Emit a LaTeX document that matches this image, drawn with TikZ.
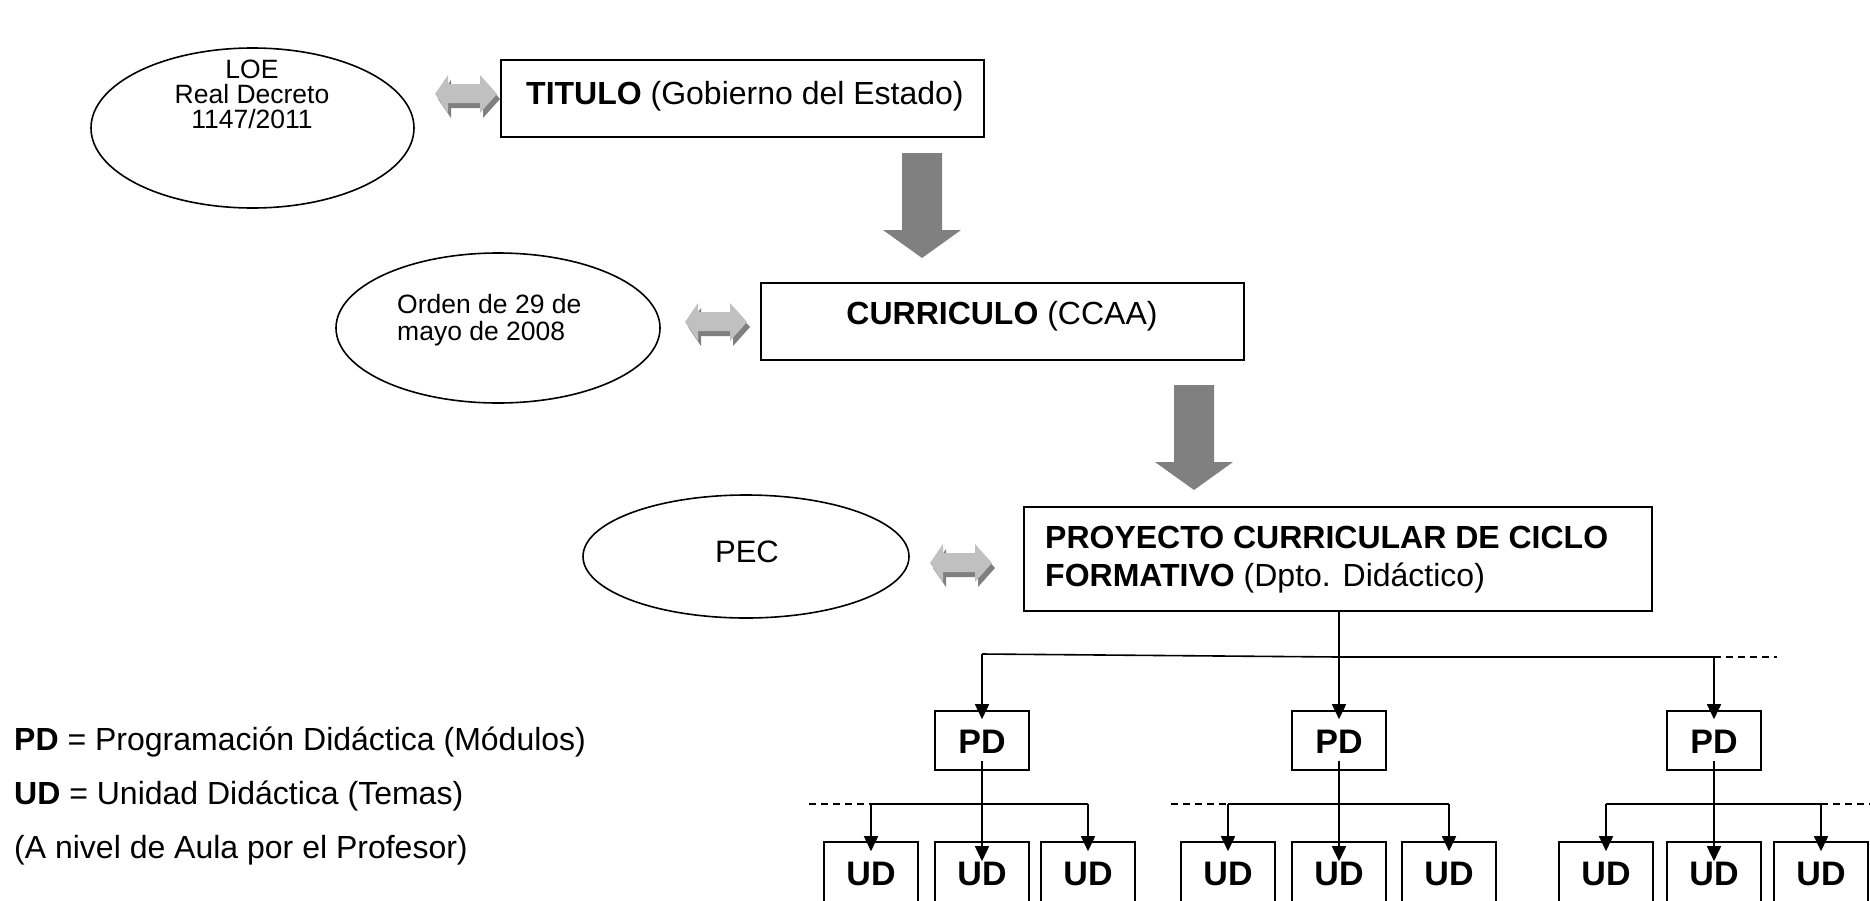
\documentclass[tikz,border=0pt]{standalone}
\usepackage{fontspec}
\setmainfont{Liberation Sans}
\usetikzlibrary{shapes.geometric,arrows.meta}
\definecolor{biggray}{HTML}{808080}
\definecolor{lightgr}{HTML}{C0C0C0}
\definecolor{darkgr}{HTML}{7F7F7F}
\tikzset{
  ell/.style={draw, ellipse, line width=1.6pt, inner sep=0pt},
  box/.style={draw, rectangle, line width=1.6pt, inner sep=0pt},
  bigtxt/.style={inner sep=0pt, font=\fontsize{32}{38}\selectfont},
  smalltxt/.style={inner sep=0pt, font=\fontsize{26.5}{26}\selectfont},
  boxtxt/.style={inner sep=0pt, font=\fontsize{34}{38}\selectfont\bfseries},
  conn/.style={line width=1.6pt, -{Triangle[length=15pt,width=14pt]}},
  plainline/.style={line width=1.6pt},
  dashline/.style={line width=1.6pt, dash pattern=on 7pt off 5pt},
  dblarrow/.pic={
    \begin{scope}[shift={(3,5)}]
      \fill[darkgr] (-31,0) -- (-18,-19) -- (-18,-10) -- (14,-10) -- (14,-19) -- (31,0) -- (14,19) -- (14,9) -- (-18,9) -- (-18,19) -- cycle;
    \end{scope}
    \fill[lightgr] (-31,0) -- (-18,-19) -- (-18,-10) -- (14,-10) -- (14,-19) -- (31,0) -- (14,19) -- (14,9) -- (-18,9) -- (-18,19) -- cycle;
  },
  bigarrow/.pic={
    \fill[biggray] (-20,0) -- (20,0) -- (20,77) -- (39,77) -- (0,105) -- (-39,77) -- (-20,77) -- cycle;
  }
}
\begin{document}
\begin{tikzpicture}[x=1pt,y=-1pt]
\useasboundingbox (0,0) rectangle (1870,900);
\clip (0,0) rectangle (1870,900);

% ellipses
\node[ell, minimum width=323pt, minimum height=160pt] (loe) at (252.5,128) {};
\node[ell, minimum width=324pt, minimum height=150pt] (orden) at (498,328) {};
\node[ell, minimum width=326pt, minimum height=123pt] (pec) at (746,556.5) {};

\node[smalltxt, anchor=base] (loe1) at (252,78.5) {LOE};
\node[smalltxt, anchor=base] (loe2) at (252,103.5) {Real Decreto};
\node[smalltxt, anchor=base] (loe3) at (252,128.5) {1147/2011};
\node[smalltxt, anchor=base west] (ord1) at (397,313) {Orden de 29 de};
\node[smalltxt, anchor=base west] (ord2) at (397,340) {mayo de 2008};
\node[bigtxt, anchor=base, font=\fontsize{31}{36}\selectfont] (pectxt) at (747,562) {PEC};

% double arrows
\pic (da1) at (466,94) {dblarrow};
\pic (da2) at (716,322) {dblarrow};
\pic (da3) at (961,563) {dblarrow};

% main boxes
\node[box, minimum width=483pt, minimum height=77pt] (titulo) at (742.5,98.5) {};
\node[bigtxt, anchor=base west] (titulotxt) at (526,104) {\textbf{TITULO} (Gobierno del Estado)};
\node[box, minimum width=483pt, minimum height=77pt] (curr) at (1002.5,321.5) {};
\node[bigtxt, anchor=base] (currtxt) at (1002,324) {\textbf{CURRICULO} (CCAA)};
\node[box, minimum width=628pt, minimum height=104pt] (proy) at (1338,559) {};
\node[bigtxt, anchor=base west] (proy1) at (1045,548.5) {\textbf{PROYECTO CURRICULAR DE CICLO}};
\node[bigtxt, anchor=base west] (proy2) at (1045,586.5) {\textbf{FORMATIVO} (Dpto. Didáctico)};

% big arrows
\pic (ba1) at (922,153) {bigarrow};
\pic (ba2) at (1194,385) {bigarrow};

% PD boxes
\foreach \n/\x in {1/982,2/1339,3/1714}{
  \node[box, minimum width=94pt, minimum height=59pt] (pd\n) at (\x,740.5) {};
  \node[boxtxt, anchor=base] (pdt\n) at (\x,753) {PD};
}
% UD boxes
\foreach \n/\x in {1/871,2/982,3/1088,4/1228,5/1339,6/1449,7/1606,8/1714,9/1821}{
  \node[box, minimum width=94pt, minimum height=60pt] (ud\n) at (\x,872) {};
  \node[boxtxt, anchor=base] (udt\n) at (\x,885) {UD};
}

% top tree
\coordinate (h1) at (982,654);
\coordinate (h2) at (1339,657);
\coordinate (h3) at (1714,657);
\coordinate (h4) at (1777,657);
\draw[plainline] (h1) -- (h2) -- (h3);
\draw[dashline] (h3) -- (h4);
\draw[conn, shorten >=-9pt] (h1) -- (pd1.north);
\draw[conn, shorten >=-9pt] (proy.south -| pd2.north) -- (pd2.north);
\draw[conn, shorten >=-9pt] (h3) -- (pd3.north);

% lower trees
\coordinate (g1a) at (809,804);
\coordinate (g1b) at (871,804);
\coordinate (g1c) at (1088,804);
\draw[dashline] (g1a) -- (g1b);
\draw[plainline] (g1b) -- (g1c);
\draw[conn, shorten >=-10pt] (g1b) -- (ud1.north);
\draw[conn, shorten >=-10pt] (g1c) -- (ud3.north);
\draw[conn, shorten <=-10pt, shorten >=-20pt] (pd1.south) -- (ud2.north);

\coordinate (g2a) at (1171,804);
\coordinate (g2b) at (1228,804);
\coordinate (g2c) at (1449,804);
\draw[dashline] (g2a) -- (g2b);
\draw[plainline] (g2b) -- (g2c);
\draw[conn, shorten >=-10pt] (g2b) -- (ud4.north);
\draw[conn, shorten >=-10pt] (g2c) -- (ud6.north);
\draw[conn, shorten <=-10pt, shorten >=-20pt] (pd2.south) -- (ud5.north);

\coordinate (g3a) at (1606,804);
\coordinate (g3b) at (1821,804);
\coordinate (g3c) at (1870,804);
\draw[plainline] (g3a) -- (g3b);
\draw[dashline] (g3b) -- (g3c);
\draw[conn, shorten >=-10pt] (g3a) -- (ud7.north);
\draw[conn, shorten >=-10pt] (g3b) -- (ud9.north);
\draw[conn, shorten <=-10pt, shorten >=-20pt] (pd3.south) -- (ud8.north);

% legend
\node[bigtxt, anchor=base west] (leg1) at (14,750) {\textbf{PD} = Programación Didáctica (Módulos)};
\node[bigtxt, anchor=base west] (leg2) at (14,804) {\textbf{UD} = Unidad Didáctica (Temas)};
\node[bigtxt, anchor=base west] (leg3) at (14,858) {(A nivel de Aula por el Profesor)};
\end{tikzpicture}
\end{document}
